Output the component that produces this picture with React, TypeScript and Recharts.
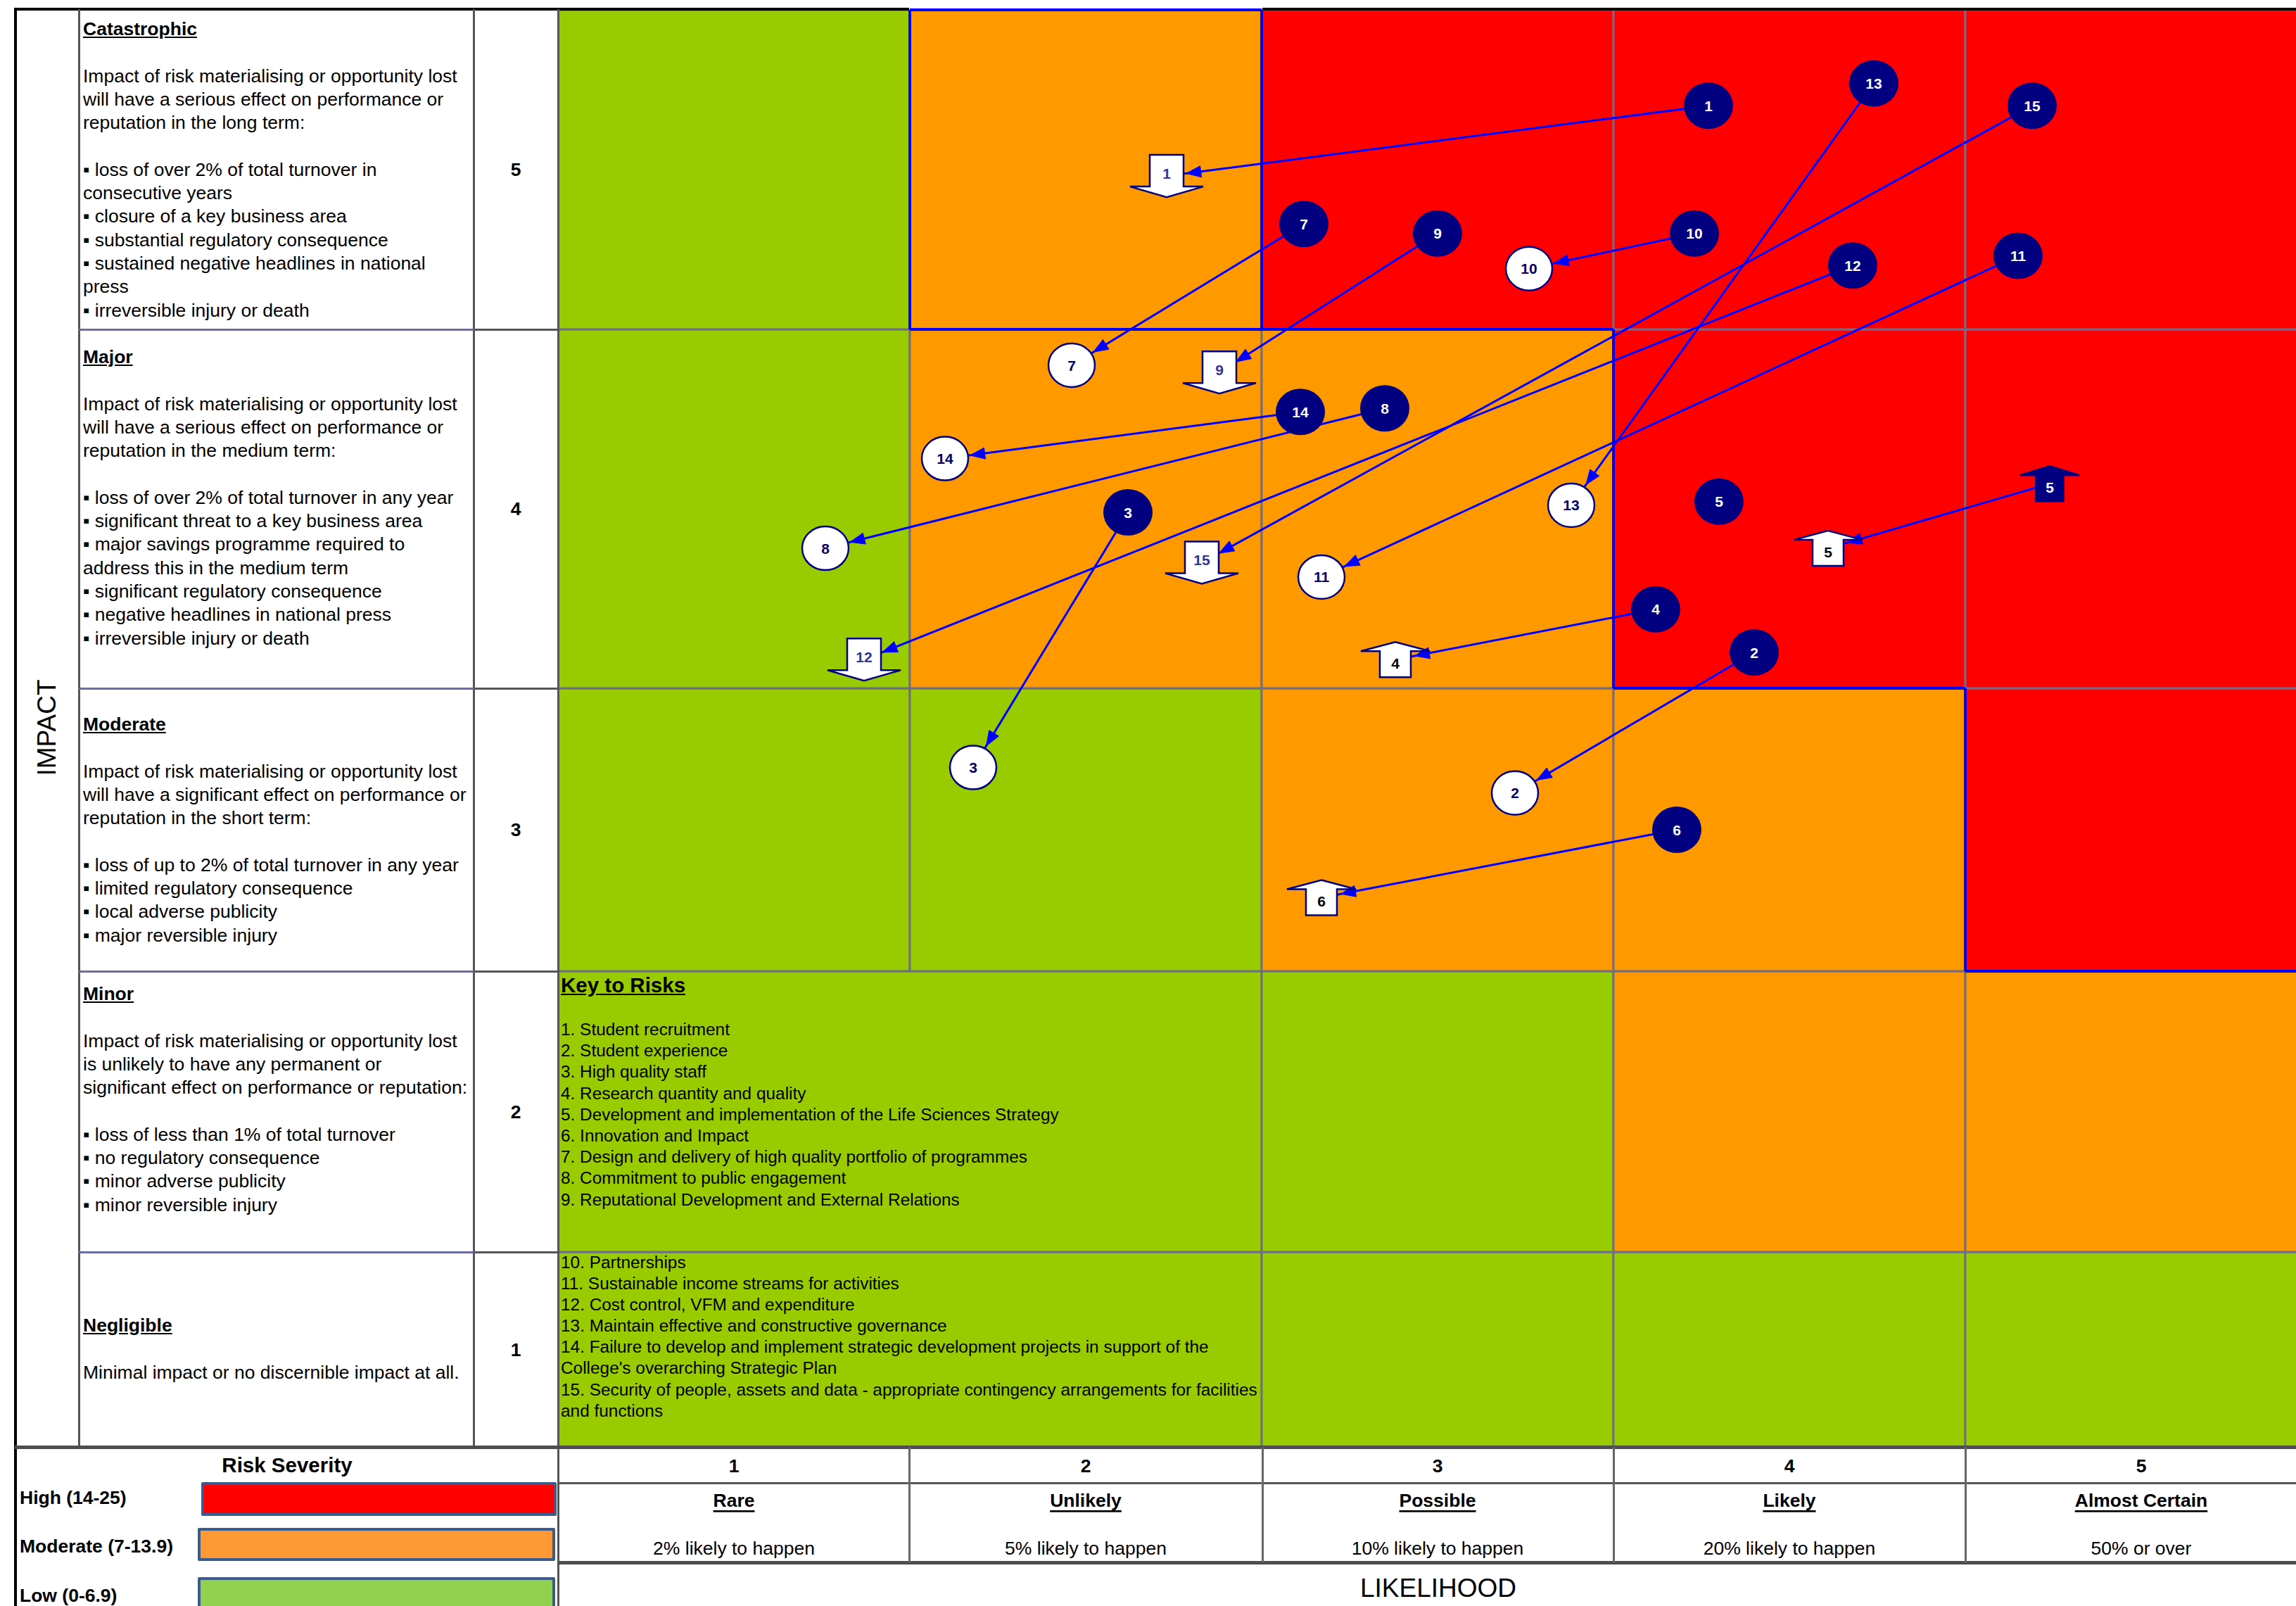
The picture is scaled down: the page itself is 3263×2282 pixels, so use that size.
// App.tsx — risk heat map (impact x likelihood) with risk movement arrows.

import React from "react";
import { ComposedChart, XAxis, YAxis, ReferenceArea, ReferenceLine, Line, Scatter } from "recharts";

const W = 3263;
const H = 2282;
const FONT = '"Liberation Sans", Arial, sans-serif';

// likelihood (x axis)
const likelihoodLevels = [1, 2, 3, 4, 5];
const likelihoodNames = ["Rare", "Unlikely", "Possible", "Likely", "Almost Certain"];
const likelihoodNotes = [
  "2% likely to happen",
  "5% likely to happen",
  "10% likely to happen",
  "20% likely to happen",
  "50% or over",
];

// impact (y axis)
const impactLevels = [1, 2, 3, 4, 5];

// severity per cell, rows from impact 5 down to impact 1
const severityGrid = [
  ["low", "moderate", "high", "high", "high"],
  ["low", "moderate", "moderate", "high", "high"],
  ["low", "low", "moderate", "moderate", "high"],
  ["low", "low", "low", "moderate", "moderate"],
  ["low", "low", "low", "low", "low"],
];
// rows where likelihood 1-2 are merged to hold the key
const keyRows = [1, 2];

// risk movements: current position -> target position
const moveLabels = ["1", "2", "3", "4", "5", "6", "7", "8", "9", "10", "11", "12", "13", "14", "15"];
const fromLikelihood = [3.77, 3.9, 2.12, 3.62, 4.74, 3.68, 2.62, 2.85, 3.0, 3.73, 4.65, 4.18, 4.24, 2.61, 4.69];
const fromImpact = [5.2, 3.6, 3.99, 3.72, 4.07, 3.0, 4.83, 4.28, 4.8, 4.8, 4.73, 4.7, 5.27, 4.27, 5.2];
const fromShape = ["dot", "dot", "dot", "dot", "upSolid", "dot", "dot", "dot", "dot", "dot", "dot", "dot", "dot", "dot", "dot"];
const toLikelihood = [2.23, 3.22, 1.68, 2.88, 4.11, 2.67, 1.96, 1.26, 2.38, 3.26, 2.67, 1.37, 3.38, 1.6, 2.33];
const toImpact = [4.98, 3.13, 3.22, 3.58, 3.89, 2.76, 4.4, 3.89, 4.38, 4.69, 3.81, 3.58, 4.01, 4.14, 3.85];
const toShape = ["down", "ring", "ring", "up", "up", "up", "ring", "ring", "down", "ring", "ring", "down", "ring", "ring", "down"];

// risks plotted without a movement
const soloLabels = ["5"];
const soloLikelihood = [3.8];
const soloImpact = [4.02];

// key text
const keyItemsA = [
  "1. Student recruitment",
  "2. Student experience",
  "3. High quality staff",
  "4. Research quantity and quality",
  "5. Development and implementation of the Life Sciences Strategy",
  "6. Innovation and Impact",
  "7. Design and delivery of high quality portfolio of programmes",
  "8. Commitment to public engagement",
  "9. Reputational Development and External Relations",
];
const keyItemsB = [
  "10. Partnerships",
  "11. Sustainable income streams for activities",
  "12. Cost control, VFM and expenditure",
  "13. Maintain effective and constructive governance",
  "14. Failure to develop and implement strategic development projects in support of the",
  "College's overarching Strategic Plan",
  "15. Security of people, assets and data - appropriate contingency arrangements for facilities",
  "and functions",
];

const impactText: Record<number, string[]> = {
  5: [
    "Catastrophic",
    "",
    "Impact of risk materialising or opportunity lost",
    "will have a serious effect on performance or",
    "reputation in the long term:",
    "",
    "\u25aa loss of over 2% of total turnover in",
    "consecutive years",
    "\u25aa closure of a key business area",
    "\u25aa substantial regulatory consequence",
    "\u25aa sustained negative headlines in national",
    "press",
    "\u25aa irreversible injury or death",
  ],
  4: [
    "Major",
    "",
    "Impact of risk materialising or opportunity lost",
    "will have a serious effect on performance or",
    "reputation in the medium term:",
    "",
    "\u25aa loss of over 2% of total turnover in any year",
    "\u25aa significant threat to a key business area",
    "\u25aa major savings programme required to",
    "address this in the medium term",
    "\u25aa significant regulatory consequence",
    "\u25aa negative headlines in national press",
    "\u25aa irreversible injury or death",
  ],
  3: [
    "Moderate",
    "",
    "Impact of risk materialising or opportunity lost",
    "will have a significant effect on performance or",
    "reputation in the short term:",
    "",
    "\u25aa loss of up to 2% of total turnover in any year",
    "\u25aa limited regulatory consequence",
    "\u25aa local adverse publicity",
    "\u25aa major reversible injury",
  ],
  2: [
    "Minor",
    "",
    "Impact of risk materialising or opportunity lost",
    "is unlikely to have any permanent or",
    "significant effect on performance or reputation:",
    "",
    "\u25aa loss of less than 1% of total turnover",
    "\u25aa no regulatory consequence",
    "\u25aa minor adverse publicity",
    "\u25aa minor reversible injury",
  ],
  1: ["Negligible", "", "Minimal impact or no discernible impact at all."],
};

const severityBands = ["High (14-25)", "Moderate (7-13.9)", "Low (0-6.9)"];

// ---- layout ----
const SEVERITY_COLOR: Record<string, string> = { high: "#ff0000", moderate: "#ff9900", low: "#99cc00" };
const ROW_SPAN = [277, 399, 402, 510, 454]; // plot height taken by impact rows 1..5
const ROW_BASE = ROW_SPAN.reduce<number[]>((acc, h, i) => [...acc, acc[i] + h], [0]);
const Y_TOP = ROW_BASE[5];
const toY = (impact: number) => {
  const k = Math.min(5, Math.max(1, Math.floor(impact + 0.5)));
  return ROW_BASE[k - 1] + (impact - (k - 0.5)) * ROW_SPAN[k - 1];
};
const TEXT_TOP: Record<number, number> = { 5: 25, 4: 491, 3: 1013, 2: 1396, 1: 1867 };
const NAVY = "#000080";
const BLUE = "#0000ff";

const fromPoints = moveLabels.map((label, i) => ({ x: fromLikelihood[i], y: toY(fromImpact[i]), label, shape: fromShape[i] }));
const toPoints = moveLabels.map((label, i) => ({ x: toLikelihood[i], y: toY(toImpact[i]), label, shape: toShape[i] }));
const soloPoints = soloLabels.map((label, i) => ({ x: soloLikelihood[i], y: toY(soloImpact[i]), label, shape: "dot" }));

const tipGap: Record<string, number> = { ring: 36, down: 28, up: 28 };

function arrowDot(shape: string) {
  return (props: any) => {
    const { cx, cy, index, points } = props;
    if (index !== 1 || !points || points.length < 2) return <g key={`a${index}`} />;
    const dx = cx - points[0].x;
    const dy = cy - points[0].y;
    const len = Math.hypot(dx, dy) || 1;
    const ux = dx / len;
    const uy = dy / len;
    const tx = cx - ux * tipGap[shape];
    const ty = cy - uy * tipGap[shape];
    const bx = tx - ux * 21;
    const by = ty - uy * 21;
    const px = -uy * 8;
    const py = ux * 8;
    return (
      <polygon key={`a${index}`} points={`${tx},${ty} ${bx + px},${by + py} ${bx - px},${by - py}`} fill={BLUE} stroke={BLUE} strokeWidth={1} />
    );
  };
}

function renderMarker(props: any) {
  const { cx, cy, payload } = props;
  const { shape, label } = payload;
  const txt = (fill: string, dy: number) => (
    <text x={cx} y={cy + dy} textAnchor="middle" dominantBaseline="central" fontSize={21} fontWeight="bold" fill={fill} fontFamily={FONT}>
      {label}
    </text>
  );
  if (shape === "dot") {
    return (
      <g>
        <ellipse cx={cx} cy={cy} rx={35} ry={33} fill={NAVY} />
        {txt("#ffffff", 0)}
      </g>
    );
  }
  if (shape === "ring") {
    return (
      <g>
        <ellipse cx={cx} cy={cy} rx={33} ry={31} fill="#ffffff" stroke={NAVY} strokeWidth={2.5} />
        {txt("#000066", 0)}
      </g>
    );
  }
  if (shape === "down") {
    const pts = [
      [cx - 24, cy - 30], [cx + 24, cy - 30], [cx + 24, cy + 15], [cx + 52, cy + 15],
      [cx, cy + 30], [cx - 52, cy + 15], [cx - 24, cy + 15],
    ].map((p) => p.join(",")).join(" ");
    return (
      <g>
        <polygon points={pts} fill="#ffffff" stroke={NAVY} strokeWidth={2.5} />
        {txt("#333399", -4)}
      </g>
    );
  }
  const solid = shape === "upSolid";
  const sw = solid ? 19.5 : 22;
  const hw = solid ? 42 : 49;
  const pts = [
    [cx, cy - 25], [cx + hw, cy - 12], [cx + sw, cy - 12], [cx + sw, cy + 25],
    [cx - sw, cy + 25], [cx - sw, cy - 12], [cx - hw, cy - 12],
  ].map((p) => p.join(",")).join(" ");
  return (
    <g>
      <polygon points={pts} fill={solid ? NAVY : "#ffffff"} stroke={NAVY} strokeWidth={2.5} />
      {txt(solid ? "#ffffff" : "#000000", 5)}
    </g>
  );
}

function LikelihoodTick(props: any) {
  const { x, payload } = props;
  const i = likelihoodLevels.indexOf(payload.value);
  return (
    <g fontFamily={FONT} fill="#000">
      <text x={x} y={2083} textAnchor="middle" dominantBaseline="central" fontSize={26.5} fontWeight="bold">{payload.value}</text>
      <text x={x} y={2132} textAnchor="middle" dominantBaseline="central" fontSize={26.5} fontWeight="bold" textDecoration="underline">
        {likelihoodNames[i]}
      </text>
      <text x={x} y={2200} textAnchor="middle" dominantBaseline="central" fontSize={26.5}>{likelihoodNotes[i]}</text>
    </g>
  );
}

function ImpactTick(props: any) {
  const { y, payload } = props;
  const level = impactLevels.find((l) => Math.abs(toY(l) - payload.value) < 1);
  return (
    <text x={733} y={y} textAnchor="middle" dominantBaseline="central" fontSize={26.5} fontWeight="bold" fontFamily={FONT} fill="#000">
      {level}
    </text>
  );
}

const box = (left: number, top: number, width: number, height: number, background: string) => (
  <div key={`${left}-${top}-${width}-${height}`} style={{ position: "absolute", left, top, width, height, background }} />
);

export default function App() {
  const cells: React.ReactNode[] = [];
  impactLevels.forEach((imp) => {
    likelihoodLevels.forEach((lik) => {
      const merged = keyRows.includes(imp);
      if (merged && lik === 2) return;
      cells.push(
        <ReferenceArea
          key={`c${imp}-${lik}`}
          x1={lik - 0.5}
          x2={merged && lik === 1 ? 2.5 : lik + 0.5}
          y1={toY(imp - 0.5)}
          y2={toY(imp + 0.5)}
          fill={SEVERITY_COLOR[severityGrid[5 - imp][lik - 1]]}
          fillOpacity={1}
          stroke="#6e6e8c"
          strokeWidth={3}
          ifOverflow="hidden"
        />
      );
    });
  });

  // blue outlines round the high-severity zone and the orange top cell
  const blueEdges = [
    [1.5, 5.5, 2.5, 5.5],
    [1.5, 4.5, 1.5, 5.5],
    [2.5, 4.5, 2.5, 5.5],
    [1.5, 4.5, 3.5, 4.5],
    [3.5, 3.5, 3.5, 4.5],
    [3.5, 3.5, 4.5, 3.5],
    [4.5, 2.5, 4.5, 3.5],
    [4.5, 2.5, 5.5, 2.5],
  ];

  return (
    <div style={{ position: "absolute", left: 0, top: 0, width: W, height: H, overflow: "hidden", background: "#fff", fontFamily: FONT, color: "#000" }}>
      <ComposedChart width={W} height={H} margin={{ top: 14, right: 0, bottom: 0, left: 673 }}>
        <XAxis
          type="number"
          dataKey="x"
          domain={[0.5, 5.44]}
          allowDataOverflow
          ticks={likelihoodLevels}
          interval={0}
          height={226}
          axisLine={false}
          tickLine={false}
          tick={(p: any) => <LikelihoodTick {...p} />}
        />
        <YAxis
          type="number"
          dataKey="y"
          domain={[0, Y_TOP]}
          allowDataOverflow
          ticks={impactLevels.map((l) => toY(l))}
          interval={0}
          width={120}
          axisLine={false}
          tickLine={false}
          tick={(p: any) => <ImpactTick {...p} />}
        />
        {cells}
        {blueEdges.map(([x1, y1, x2, y2], i) => (
          <ReferenceLine
            key={`b${i}`}
            segment={[{ x: x1, y: toY(y1) }, { x: x2, y: toY(y2) }]}
            stroke={BLUE}
            strokeWidth={4}
            ifOverflow="visible"
          />
        ))}
        {moveLabels.map((label, i) => (
          <Line
            key={`m${label}`}
            data={[fromPoints[i], toPoints[i]]}
            dataKey="y"
            type="linear"
            stroke={BLUE}
            strokeWidth={3}
            dot={arrowDot(toShape[i])}
            activeDot={false}
            isAnimationActive={false}
          />
        ))}
        <Scatter data={toPoints} shape={renderMarker} isAnimationActive={false} />
        <Scatter data={[...soloPoints, ...fromPoints]} shape={renderMarker} isAnimationActive={false} />
      </ComposedChart>

      {/* frame */}
      {box(21, 11, 1271, 4, "#000")}
      {box(1794, 11, W - 1794, 4, "#000")}
      {box(20, 11, 4, H - 11, "#000")}
      {box(111, 13, 3, 2043, "#555")}
      {box(672, 13, 3, 2043, "#555")}
      {box(792, 13, 3, H - 13, "#555")}
      {[468, 978, 1380, 1779].map((y) => (
        <React.Fragment key={`r${y}`}>
          {box(112, y - 1, 561, 3, "#6b6ba6")}
          {box(673, y - 1, 120, 3, "#555")}
        </React.Fragment>
      ))}
      {box(21, 2054, W - 21, 5, "#4d4d4d")}
      {box(793, 2106, W - 793, 3, "#555")}
      {box(793, 2218, W - 793, 5, "#4d4d4d")}
      {[1291, 1793, 2292, 2792].map((x) => box(x, 2056, 3, 164, "#666"))}

      {/* impact descriptions */}
      {impactLevels.map((imp) => (
        <div key={`t${imp}`} style={{ position: "absolute", left: 118, top: TEXT_TOP[imp], fontSize: 26.5, lineHeight: "33.3px", whiteSpace: "pre" }}>
          {impactText[imp].map((line, i) => (
            <div key={i} style={i === 0 ? { fontWeight: "bold", textDecoration: "underline" } : undefined}>
              {line || "\u00a0"}
            </div>
          ))}
        </div>
      ))}

      <div style={{ position: "absolute", left: 67, top: 1034, transform: "translate(-50%, -50%) rotate(-90deg)", fontSize: 37, whiteSpace: "nowrap" }}>
        IMPACT
      </div>
      <div style={{ position: "absolute", left: 2044, top: 2257, transform: "translate(-50%, -50%)", fontSize: 37, whiteSpace: "nowrap" }}>
        LIKELIHOOD
      </div>

      {/* key to risks */}
      <div style={{ position: "absolute", left: 797, top: 1382, fontSize: 29.5, lineHeight: "36px", fontWeight: "bold", textDecoration: "underline" }}>
        Key to Risks
      </div>
      <div style={{ position: "absolute", left: 797, top: 1448, fontSize: 24.4, lineHeight: "30.2px", whiteSpace: "pre" }}>
        {keyItemsA.map((t) => <div key={t}>{t}</div>)}
      </div>
      <div style={{ position: "absolute", left: 797, top: 1779, fontSize: 24.4, lineHeight: "30.1px", whiteSpace: "pre" }}>
        {keyItemsB.map((t) => <div key={t}>{t}</div>)}
      </div>

      {/* risk severity legend */}
      <div style={{ position: "absolute", left: 250, top: 2064, width: 316, textAlign: "center", fontSize: 29.5, lineHeight: "36px", fontWeight: "bold" }}>
        Risk Severity
      </div>
      {severityBands.map((band, i) => (
        <div key={band} style={{ position: "absolute", left: 28, top: [2128, 2197, 2267][i] - 17, fontSize: 26.5, lineHeight: "34px", fontWeight: "bold", whiteSpace: "nowrap" }}>
          {band}
        </div>
      ))}
      {[
        { left: 286, top: 2106, width: 505, height: 48, color: "#ff0000" },
        { left: 281, top: 2171, width: 508, height: 47, color: "#ff9933" },
        { left: 281, top: 2241, width: 508, height: 60, color: "#92d050" },
      ].map((b) => (
        <div
          key={b.top}
          style={{ position: "absolute", left: b.left, top: b.top, width: b.width, height: b.height, background: b.color, border: "4px solid #3b5b8c", borderRadius: 2, boxSizing: "border-box" }}
        />
      ))}
    </div>
  );
}
